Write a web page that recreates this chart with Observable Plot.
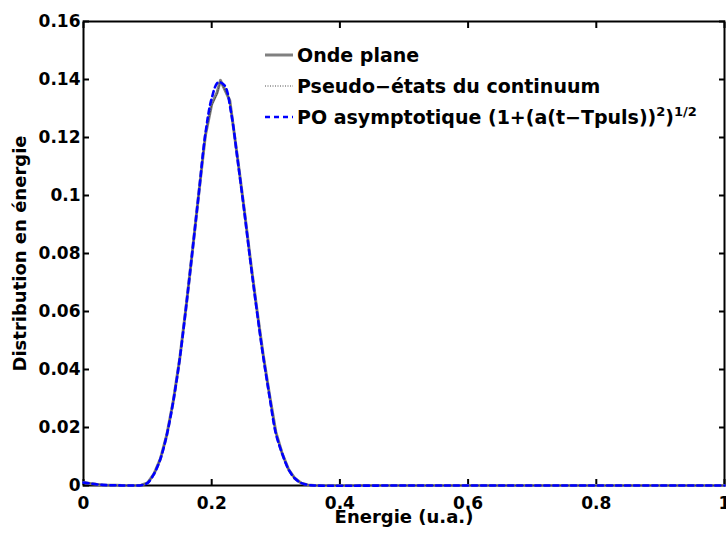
<!DOCTYPE html>
<html><head><meta charset="utf-8">
<script src="https://cdn.jsdelivr.net/npm/d3@7"></script>
<script src="https://cdn.jsdelivr.net/npm/@observablehq/plot@0.6"></script>
<style>
body{margin:0;background:#fff;}
#chart svg{display:block;}
</style>
</head><body><div id="chart"></div>
<script>
// ---- data ----
const xTicks = [0, 0.2, 0.4, 0.6, 0.8, 1];
const yTicks = [0, 0.02, 0.04, 0.06, 0.08, 0.1, 0.12, 0.14, 0.16];

const seriesNames = ["Onde plane", "Pseudo−états du continuum", "PO asymptotique"];

// Onde plane (solid grey)
const energyOnde = [0, 0.01, 0.02, 0.03, 0.04, 0.05, 0.06, 0.07, 0.08, 0.09, 0.10, 0.11, 0.12, 0.13, 0.14, 0.15, 0.16, 0.17, 0.18, 0.19, 0.20, 0.2085, 0.2137, 0.2282, 0.24, 0.25, 0.26, 0.27, 0.28, 0.29, 0.30, 0.31, 0.32, 0.33, 0.34, 0.35, 0.36, 0.5, 0.75, 1.0];
const ondePlane  = [0.0010, 0.0007, 0.0004, 0.0002, 0.0001, 0.0001, 0, 0, 0, 0.0001, 0.0009, 0.0040, 0.0092, 0.0175, 0.0290, 0.0435, 0.0615, 0.0810, 0.1010, 0.1205, 0.1315, 0.1356, 0.1397, 0.1328, 0.1135, 0.0965, 0.0785, 0.0615, 0.0455, 0.0315, 0.0185, 0.0110, 0.0055, 0.0024, 0.0008, 0.0002, 0, 0, 0, 0];

// Pseudo-etats du continuum (dotted)
const energyPseudo = [0, 0.01, 0.02, 0.03, 0.04, 0.05, 0.06, 0.07, 0.08, 0.09, 0.10, 0.11, 0.12, 0.13, 0.14, 0.15, 0.16, 0.17, 0.18, 0.19, 0.20, 0.2085, 0.2137, 0.2282, 0.24, 0.25, 0.26, 0.27, 0.28, 0.29, 0.30, 0.31, 0.32, 0.33, 0.34, 0.35, 0.36, 0.5, 0.75, 1.0];
const pseudoEtats  = [0.0010, 0.0007, 0.0004, 0.0002, 0.0001, 0.0001, 0, 0, 0, 0.0001, 0.0009, 0.0040, 0.0092, 0.0175, 0.0290, 0.0435, 0.0615, 0.0810, 0.1010, 0.1205, 0.1310, 0.1350, 0.1395, 0.1330, 0.1135, 0.0965, 0.0785, 0.0615, 0.0455, 0.0315, 0.0185, 0.0110, 0.0055, 0.0024, 0.0008, 0.0002, 0, 0, 0, 0];

// PO asymptotique (dashed blue)
const energyPO = [0, 0.01, 0.02, 0.03, 0.04, 0.05, 0.06, 0.07, 0.08, 0.09, 0.10, 0.11, 0.12, 0.13, 0.14, 0.15, 0.16, 0.17, 0.18, 0.19, 0.20, 0.21, 0.22, 0.23, 0.24, 0.25, 0.26, 0.27, 0.28, 0.29, 0.30, 0.31, 0.32, 0.33, 0.34, 0.35, 0.36, 0.5, 0.75, 1.0];
const poAsym   = [0.0010, 0.0007, 0.0004, 0.0002, 0.0001, 0.0001, 0, 0, 0, 0.0001, 0.0009, 0.0040, 0.0092, 0.0175, 0.0290, 0.0435, 0.0615, 0.0810, 0.1010, 0.1210, 0.1335, 0.1390, 0.1380, 0.1290, 0.1130, 0.0960, 0.0780, 0.0610, 0.0450, 0.0310, 0.0180, 0.0110, 0.0055, 0.0024, 0.0008, 0.0002, 0, 0, 0, 0];

const toRows = (xs, ys) => xs.map((x, i) => ({x, y: ys[i]}));
const ondeRows = toRows(energyOnde, ondePlane);
const pseudoRows = toRows(energyPseudo, pseudoEtats);
const poRows = toRows(energyPO, poAsym);

const FONT = "DejaVu Sans";

const chart = Plot.plot({
  width: 726,
  height: 533,
  marginLeft: 83,
  marginRight: 2,
  marginTop: 21,
  marginBottom: 48,
  style: {fontFamily: FONT, fontWeight: "bold", fontSize: "17px", color: "black", background: "white", overflow: "visible"},
  x: {domain: [0, 1]},
  y: {domain: [0, 0.16]},
  marks: [
    Plot.frame({stroke: "black", strokeWidth: 2}),
    Plot.axisX(xTicks, {anchor: "bottom", tickSize: -6, tickPadding: 17, strokeWidth: 2, label: null, tickFormat: d3.format("")}),
    Plot.axisX(xTicks, {anchor: "top", tickSize: -6, strokeWidth: 2, label: null, tickFormat: () => ""}),
    Plot.axisY(yTicks, {anchor: "left", tickSize: -6, tickPadding: 9, strokeWidth: 2, label: null, tickFormat: d3.format("")}),
    Plot.axisY(yTicks, {anchor: "right", tickSize: -6, strokeWidth: 2, label: null, tickFormat: () => ""}),
    Plot.line(ondeRows, {x: "x", y: "y", stroke: "#808080", strokeWidth: 3}),
    Plot.line(pseudoRows, {x: "x", y: "y", stroke: "#4a4a4a", strokeWidth: 1, strokeDasharray: "1,1.5"}),
    Plot.line(poRows, {x: "x", y: "y", stroke: "#0000ff", strokeWidth: 2.6, strokeDasharray: "5,4", curve: "catmull-rom"}),
    Plot.text(["Distribution en énergie"], {frameAnchor: "left", dx: -63, rotate: -90, textAnchor: "middle", fontSize: 18, fontWeight: "bold", fill: "black"}),
    Plot.text(["Energie (u.a.)"], {frameAnchor: "bottom", dy: 37, textAnchor: "middle", fontSize: 18, fontWeight: "bold", fill: "black"})
  ]
});

document.getElementById("chart").appendChild(chart);

// ---- legend ----
const svg = d3.select(chart);
const leg = svg.append("g").attr("font-family", FONT).attr("font-weight", "bold").attr("font-size", 19).attr("text-anchor", "start");
const legendStyles = [
  {stroke: "#808080", width: 3, dash: null},
  {stroke: "#4a4a4a", width: 1, dash: "1,1.5"},
  {stroke: "#0000ff", width: 2.6, dash: "5,4"}
];
const lx0 = 265, lx1 = 293, tx = 297, ly0 = 55, lstep = 31;
seriesNames.forEach((name, i) => {
  const y = ly0 + i * lstep;
  const s = legendStyles[i];
  leg.append("line").attr("x1", lx0).attr("x2", lx1).attr("y1", y).attr("y2", y)
    .attr("stroke", s.stroke).attr("stroke-width", s.width).attr("stroke-dasharray", s.dash);
  const t = leg.append("text").attr("x", tx).attr("y", y).attr("dy", "0.35em").attr("fill", "black").attr("text-anchor", "start");
  if (i < 2) {
    t.text(name);
  } else {
    t.append("tspan").text(name + " (1+(a(t−Tpuls))");
    t.append("tspan").attr("font-size", 13).attr("dy", -8).text("2");
    t.append("tspan").attr("dy", 8).text(")");
    t.append("tspan").attr("font-size", 13).attr("dy", -8).text("1/2");
  }
});
</script>
</body></html>
